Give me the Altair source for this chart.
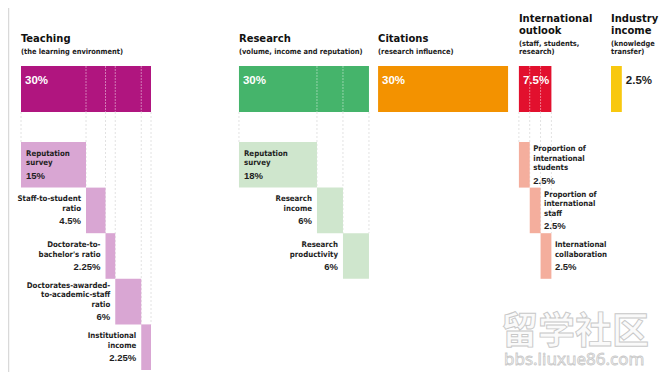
import altair as alt
import pandas as pd

# ---------------- data ----------------
groups = ["Teaching", "Research", "Citations", "International outlook", "Industry income"]
group_titles = ["Teaching", "Research", "Citations", "International\noutlook", "Industry\nincome"]
group_subtitles = ["(the learning environment)", "(volume, income and reputation)",
                   "(research influence)", "(staff, students,\nresearch)", "(knowledge\ntransfer)"]
group_weights = [30, 30, 30, 7.5, 2.5]
group_labels = ["30%", "30%", "30%", "7.5%", "2.5%"]

teaching_items = ["Reputation\nsurvey", "Staff-to-student\nratio", "Doctorate-to-\nbachelor's ratio",
                  "Doctorates-awarded-\nto-academic-staff\nratio", "Institutional\nincome"]
teaching_weights = [15, 4.5, 2.25, 6, 2.25]
teaching_labels = ["15%", "4.5%", "2.25%", "6%", "2.25%"]

research_items = ["Reputation\nsurvey", "Research\nincome", "Research\nproductivity"]
research_weights = [18, 6, 6]
research_labels = ["18%", "6%", "6%"]

intl_items = ["Proportion of\ninternational\nstudents", "Proportion of\ninternational\nstaff",
              "International\ncollaboration"]
intl_weights = [2.5, 2.5, 2.5]
intl_labels = ["2.5%", "2.5%", "2.5%"]

watermark_text = ["留学社区", "bbs.liuxue86.com"]

# ---------------- style / layout ----------------
dark_colors = ["#b0157f", "#45b46b", "#f39200", "#e2102e", "#f8c80f"]
light_colors = ["#d9a6d3", "#cfe6cd", None, "#f4ae9d", None]
NARROW = "Liberation Sans Narrow, DejaVu Sans Condensed, Roboto Condensed, Liberation Sans, sans-serif"
WIDE = "Liberation Sans, Arial, sans-serif"
INK = "#1e1e1e"

W, H = 651, 364
K = 130 / 30                      # pixels per percentage point
X_DOMAIN = [-13 / K, (W - 13) / K]
GAPS = [20.3, 2.1, 2.5, 13.75]    # spacing between groups (percent units)
ROW = 45.6                        # row height in px
ROW0 = 134                        # px from top of chart to first sub row
Y_DOMAIN = [-ROW0 / ROW, (H - ROW0) / ROW]


def ry(px):  # px from chart top -> row units
    return (px - ROW0) / ROW


TOP_Y0, TOP_Y1 = ry(58), ry(104)

X = alt.Scale(domain=X_DOMAIN, nice=False, zero=False)
Y = alt.Scale(domain=Y_DOMAIN, nice=False, zero=False, reverse=True)


def xe(f):
    return alt.X(f"{f}:Q", scale=X, axis=None)


def ye(f):
    return alt.Y(f"{f}:Q", scale=Y, axis=None)


# group starts
starts = []
s = 0.0
for i, w in enumerate(group_weights):
    starts.append(s)
    s += w + (GAPS[i] if i < len(GAPS) else 0)

top_df = pd.DataFrame({
    "group": groups,
    "x0": starts,
    "x1": [a + w for a, w in zip(starts, group_weights)],
    "y0": TOP_Y0, "y1": TOP_Y1,
    "color": dark_colors,
})

# top labels
tl = []
for i, g in enumerate(groups):
    inside = group_weights[i] >= 5
    tl.append({"tx": starts[i] if inside else starts[i] + group_weights[i],
               "ty": TOP_Y0 + 15 / ROW, "text": group_labels[i],
               "c": "#ffffff" if inside else INK})
toplab_df = pd.DataFrame(tl)

# titles
title_rows, sub_rows = [], []
SUB_LAST = 45.5
for i, g in enumerate(groups):
    sl = group_subtitles[i].split("\n")
    for j, line in enumerate(sl):
        sub_rows.append({"tx": starts[i], "ty": ry(SUB_LAST - 8 * (len(sl) - 1 - j)), "text": line})
    first_sub = SUB_LAST - 8 * (len(sl) - 1)
    tlines = group_titles[i].split("\n")
    for j, line in enumerate(tlines):
        title_rows.append({"tx": starts[i], "ty": ry(first_sub - 12 - 11.5 * (len(tlines) - 1 - j)),
                           "text": line})
title_df = pd.DataFrame(title_rows)
sub_df = pd.DataFrame(sub_rows)

# sub bars and labels
subsets = {0: (teaching_items, teaching_weights, teaching_labels, "stair"),
           1: (research_items, research_weights, research_labels, "stair"),
           3: (intl_items, intl_weights, intl_labels, "after")}
bars, lines, guides, whites = [], [], [], []
for gi, (items, weights, labels, mode) in subsets.items():
    x = starts[gi]
    bounds = [x]
    for k, (name, w, lab) in enumerate(zip(items, weights, labels)):
        bars.append({"x0": x, "x1": x + w, "y0": k, "y1": k + 1, "color": light_colors[gi]})
        if mode == "after":
            align, tx = "left", x + w
        elif k == 0:
            align, tx = "inside", x
        else:
            align, tx = "right", x
        nl = name.split("\n")
        block = (len(nl) - 1) * 9.5 + 12.5
        top = (k + 0.5) * ROW - block / 2
        for j, line in enumerate(nl):
            lines.append({"tx": tx, "ty": top / ROW + j * 9.5 / ROW, "text": line,
                          "align": align, "kind": "name"})
        lines.append({"tx": tx, "ty": (top + (len(nl) - 1) * 9.5 + 12.5) / ROW, "text": lab,
                      "align": align, "kind": "pct"})
        x += w
        bounds.append(x)
    n = len(items)
    for k, b in enumerate(bounds):
        guides.append({"gx": b, "y0": TOP_Y1, "y1": float(min(k, n - 1))})
        if 0 < k < n:
            whites.append({"gx": b, "y0": TOP_Y0, "y1": TOP_Y1})

bars_df = pd.DataFrame(bars)
lab_df = pd.DataFrame(lines)
guide_df = pd.DataFrame(guides)
white_df = pd.DataFrame(whites)

# ---------------- layers ----------------
border = alt.Chart(pd.DataFrame({"a": [0]})).mark_rule(color="#d9d9d9", strokeWidth=1.5).encode(
    x=alt.value(0.5), y=alt.value(0), y2=alt.value(H))

guide = alt.Chart(guide_df).mark_rule(color="#e2e2e2", strokeDash=[2, 2], strokeWidth=1).encode(
    x=xe("gx"), y=ye("y0"), y2=alt.Y2("y1:Q"))

top_bars = alt.Chart(top_df).mark_rect().encode(
    x=xe("x0"), x2=alt.X2("x1:Q"), y=ye("y0"), y2=alt.Y2("y1:Q"),
    color=alt.Color("color:N", scale=None))

white = alt.Chart(white_df).mark_rule(color="#ffffff", strokeDash=[2, 1], strokeWidth=0.8,
                                      opacity=0.55).encode(
    x=xe("gx"), y=ye("y0"), y2=alt.Y2("y1:Q"))

sub_bars = alt.Chart(bars_df).mark_rect().encode(
    x=xe("x0"), x2=alt.X2("x1:Q"), y=ye("y0"), y2=alt.Y2("y1:Q"),
    color=alt.Color("color:N", scale=None))

top_text = alt.Chart(toplab_df).mark_text(align="left", baseline="middle", dx=4, font=WIDE,
                                          fontWeight="bold", fontSize=11.5).encode(
    x=xe("tx"), y=ye("ty"), text="text:N", color=alt.Color("c:N", scale=None))

titles = alt.Chart(title_df).mark_text(align="left", baseline="alphabetic", font=NARROW,
                                       fontWeight="bold", fontSize=11.1, color="#111111").encode(
    x=xe("tx"), y=ye("ty"), text="text:N")

subtitles = alt.Chart(sub_df).mark_text(align="left", baseline="alphabetic", font=NARROW,
                                        fontWeight="bold", fontSize=7.4, color="#222222").encode(
    x=xe("tx"), y=ye("ty"), text="text:N")


def label_layer(align, kind, dx):
    size = 7.8 if kind == "name" else 9.5
    font = NARROW if kind == "name" else WIDE
    return alt.Chart(lab_df).transform_filter(
        (alt.datum.align == align) & (alt.datum.kind == kind)
    ).mark_text(align="left" if align != "right" else "right", baseline="middle", dx=dx,
                font=font, fontWeight="bold", fontSize=size, color=INK).encode(
        x=xe("tx"), y=ye("ty"), text="text:N")


labels = [label_layer("inside", "name", 5), label_layer("inside", "pct", 5),
          label_layer("right", "name", -5), label_layer("right", "pct", -5),
          label_layer("left", "name", 3.5), label_layer("left", "pct", 3.5)]

wm1 = alt.Chart(pd.DataFrame({"text": [watermark_text[0]]})).mark_text(
    align="left", baseline="middle", font="Noto Sans CJK SC", fontWeight="bold", fontSize=37,
    fill="#fafafa", stroke="#c8c8c8", strokeWidth=0.9).encode(
    x=alt.value(493), y=alt.value(325), text="text:N")
wm2 = alt.Chart(pd.DataFrame({"text": [watermark_text[1]]})).mark_text(
    align="left", baseline="middle", font="Noto Sans", fontSize=17,
    fill="#fafafa", stroke="#c8c8c8", strokeWidth=0.8).encode(
    x=alt.value(496), y=alt.value(352), text="text:N")

chart = alt.layer(border, guide, top_bars, white, sub_bars, top_text, titles, subtitles,
                  *labels, wm1, wm2).properties(
    width=W, height=H, padding=0, autosize=alt.AutoSizeParams(type="none"),
    background="#ffffff"
).configure_view(stroke=None)

chart.save("out.html", embed_options={"renderer": "svg", "actions": False})
